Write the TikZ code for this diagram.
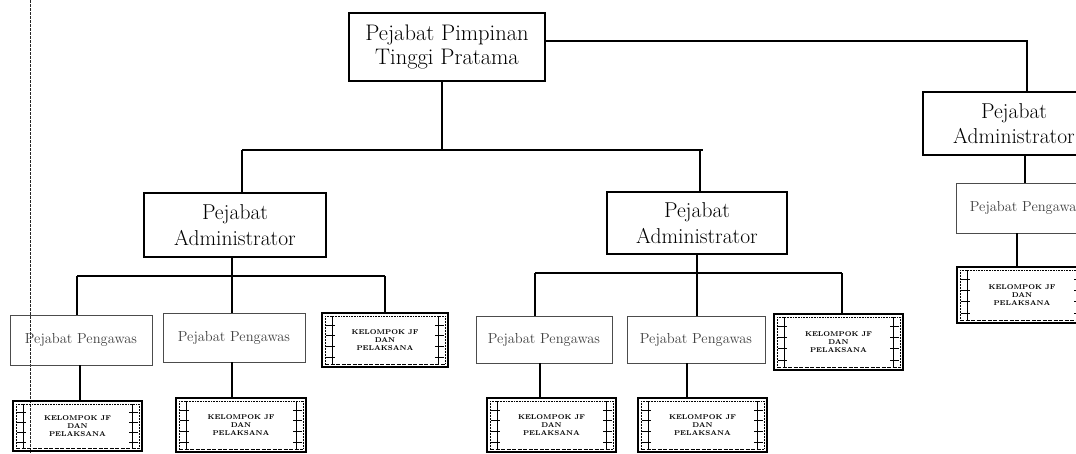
\documentclass[tikz,border=0pt]{standalone}
\usepackage{fontspec}
\usetikzlibrary{calc}
\begin{document}
\begin{tikzpicture}[x=1pt,y=-1pt,
  conn/.style={line width=1.1pt},
  topbox/.style={draw, line width=1.4pt, align=center, inner sep=0pt,
    font=\fontsize{22.5}{24.5}\selectfont},
  admbox/.style={draw, line width=1.2pt, align=center, inner sep=0pt,
    font=\fontsize{21.5}{25.5}\selectfont},
  pgwbox/.style={draw=black!70, line width=0.8pt, align=center, inner sep=0pt,
    text=black!75, font=\fontsize{14.5}{16}\selectfont},
  kelbox/.style={draw, line width=1.8pt, align=center, inner sep=0pt,
    font=\fontsize{7}{8.3}\selectfont\bfseries,
    path picture={
      \coordinate (nw) at (path picture bounding box.north west);
      \coordinate (ne) at (path picture bounding box.north east);
      \coordinate (sw) at (path picture bounding box.south west);
      \coordinate (se) at (path picture bounding box.south east);
      \draw[line width=0.6pt, densely dotted] ($(nw)+(3pt,-3pt)$) -- ($(ne)+(-3pt,-3pt)$);
      \draw[line width=0.9pt, dash pattern=on 4pt off 1.5pt] ($(sw)+(3pt,3pt)$) -- ($(se)+(-3pt,3pt)$);
      \draw[line width=0.5pt, densely dotted] ($(nw)+(3pt,-3pt)$) -- ($(sw)+(3pt,3pt)$);
      \draw[line width=0.5pt, densely dotted] ($(ne)+(-3pt,-3pt)$) -- ($(se)+(-3pt,3pt)$);
      \draw[line width=0.6pt] ($(nw)+(10pt,-3pt)$) -- ($(sw)+(10pt,3pt)$);
      \draw[line width=0.6pt] ($(ne)+(-10pt,-3pt)$) -- ($(se)+(-10pt,3pt)$);
      \foreach \f in {0.22,0.42,0.62,0.82} {
        \draw[line width=0.7pt] ($(nw)!\f!(sw)+(4pt,0)$) -- ++(9pt,0);
        \draw[line width=0.7pt] ($(ne)!\f!(se)+(-4pt,0)$) -- ++(-9pt,0);
      }
    }},
]
\useasboundingbox (0,0) rectangle (1076,453);
\fill[white] (0,0) rectangle (1076,453);

% left scan margin line
\draw[black!85, line width=0.8pt, dash pattern=on 3pt off 1pt] (30,0) -- (30,453);

% top
\node[topbox, minimum width=196, minimum height=68] (top) at (447,47) {Pejabat Pimpinan\\Tinggi Pratama};

% administrators
\node[admbox, minimum width=182, minimum height=64] (adminL) at (235,225) {Pejabat\\Administrator};
\node[admbox, minimum width=180, minimum height=62] (adminM) at (697,223) {Pejabat\\Administrator};
\node[admbox, minimum width=182, minimum height=63] (adminR) at (1014,123.5) {Pejabat\\Administrator};

% pengawas
\node[pgwbox, minimum width=142, minimum height=50] (peng1) at (81,340) {Pejabat Pengawas};
\node[pgwbox, minimum width=142, minimum height=49] (peng2) at (234,337.5) {Pejabat Pengawas};
\node[pgwbox, minimum width=136, minimum height=47] (peng3) at (544,339.5) {Pejabat Pengawas};
\node[pgwbox, minimum width=138, minimum height=47] (peng4) at (696,339.5) {Pejabat Pengawas};
\node[pgwbox, minimum width=140, minimum height=50] (pengR) at (1026,208) {Pejabat Pengawas};

% kelompok
\node[kelbox, minimum width=129, minimum height=50] (kel1) at (77.5,426) {KELOMPOK JF\\DAN\\PELAKSANA};
\node[kelbox, minimum width=130, minimum height=54] (kel2) at (241,425) {KELOMPOK JF\\DAN\\PELAKSANA};
\node[kelbox, minimum width=126, minimum height=54] (kel3) at (385,340) {KELOMPOK JF\\DAN\\PELAKSANA};
\node[kelbox, minimum width=129, minimum height=54] (kel4) at (551.5,425) {KELOMPOK JF\\DAN\\PELAKSANA};
\node[kelbox, minimum width=129, minimum height=54] (kel5) at (702.5,425) {KELOMPOK JF\\DAN\\PELAKSANA};
\node[kelbox, minimum width=129, minimum height=56] (kel6) at (838.5,342) {KELOMPOK JF\\DAN\\PELAKSANA};
\node[kelbox, minimum width=130, minimum height=56] (kelR) at (1022,295) {KELOMPOK JF\\DAN\\PELAKSANA};

% bus coordinates
\coordinate (b1L) at (242,150);
\coordinate (b1R) at (703,150);
\coordinate (b1M) at (442,150);
\coordinate (b2L) at (77,276);
\coordinate (b2M) at (232,276);
\coordinate (b2R) at (385,276);
\coordinate (b3L) at (535,273);
\coordinate (b3M) at (697,273);
\coordinate (b3R) at (842,273);
\coordinate (tr) at (1027,41);

% connectors from top
\draw[conn] ([yshift=6pt]top.east) -- (tr) -- (tr |- adminR.north);
\draw[conn] (top.south -| b1M) -- (b1M);
\draw[conn] (b1L) -- (b1R);
\draw[conn] (b1L) -- (b1L |- adminL.north);
\draw[conn] ([xshift=-3pt]b1R) -- ([xshift=-3pt]b1R |- adminM.north);

% left group
\draw[conn] (adminL.south -| b2M) -- (b2M);
\draw[conn] (b2L) -- (b2R);
\draw[conn] (b2L) -- (b2L |- peng1.north);
\draw[conn] (b2M) -- (b2M |- peng2.north);
\draw[conn] (b2R) -- (kel3.north);
\draw[conn] ([xshift=-1pt]peng1.south) -- ([xshift=-1pt]peng1.south |- kel1.north);
\draw[conn] ([xshift=-2pt]peng2.south) -- ([xshift=-2pt]peng2.south |- kel2.north);

% middle group
\draw[conn] (adminM.south) -- (b3M);
\draw[conn] (b3L) -- (b3R);
\draw[conn] (b3L) -- (b3L |- peng3.north);
\draw[conn] (b3M) -- (b3M |- peng4.north);
\draw[conn] (b3R) -- (b3R |- kel6.north);
\draw[conn] ([xshift=-4pt]peng3.south) -- ([xshift=-4pt]peng3.south |- kel4.north);
\draw[conn] ([xshift=-9pt]peng4.south) -- ([xshift=-9pt]peng4.south |- kel5.north);

% right group
\draw[conn] ([xshift=11pt]adminR.south) -- ([xshift=11pt]adminR.south |- pengR.north);
\draw[conn] ([xshift=-9pt]pengR.south) -- ([xshift=-9pt]pengR.south |- kelR.north);
\end{tikzpicture}
\end{document}
